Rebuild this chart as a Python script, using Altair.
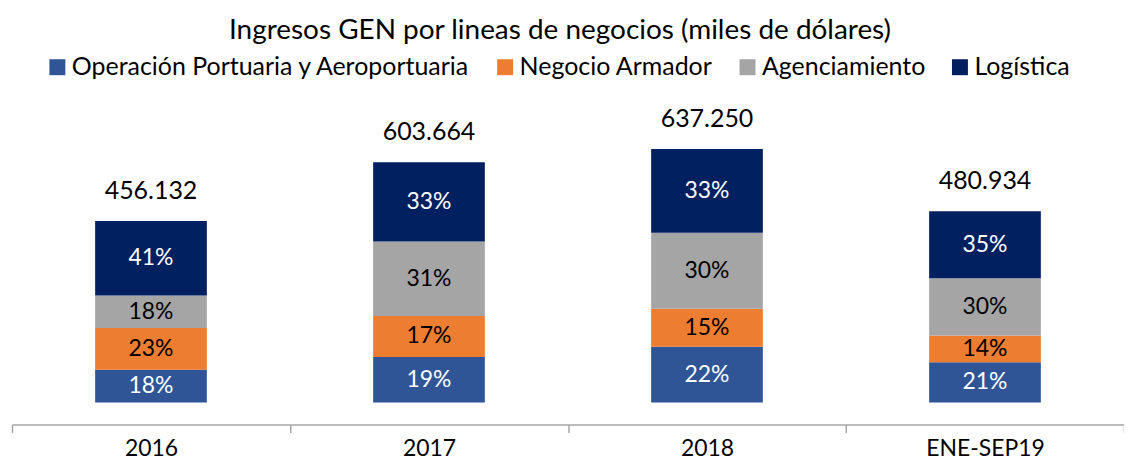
import altair as alt
import pandas as pd

periods = ["2016", "2017", "2018", "ENE-SEP19"]
totals = [456132, 603664, 637250, 480934]
segments = ["Operación Portuaria y Aeroportuaria", "Negocio Armador", "Agenciamiento", "Logística"]
share_operacion = [18, 19, 22, 21]
share_armador = [23, 17, 15, 14]
share_agenciamiento = [18, 31, 30, 30]
share_logistica = [41, 33, 33, 35]
colors = ["#2F5597", "#ED7D31", "#A5A5A5", "#002060"]
label_colors = ["white", "black", "black", "white"]

shares = [share_operacion, share_armador, share_agenciamiento, share_logistica]

rows = []
for i, p in enumerate(periods):
    cum = 0.0
    for j, s in enumerate(segments):
        v = totals[i] * shares[j][i] / 100.0
        rows.append({
            "period": p, "segment": s, "order": j,
            "start": cum, "end": cum + v, "mid": cum + v / 2,
            "label": f"{shares[j][i]}%", "lc": label_colors[j],
        })
        cum += v
df = pd.DataFrame(rows)
tot = pd.DataFrame({"period": periods, "total": totals,
                    "tlabel": [f"{t:,}".replace(",", ".") for t in totals]})

FONT = "Lato"
xenc = alt.X("period:N", sort=periods, title=None,
             scale=alt.Scale(paddingInner=0, paddingOuter=0),
             axis=alt.Axis(offset=22, tickBand="extent", tickSize=8, labelAngle=0,
                           domainColor="#A6A6A6", tickColor="#A6A6A6", domainWidth=1.5,
                           tickWidth=1.5, labelFont=FONT, labelFontSize=23,
                           labelColor="black", labelPadding=5))
yscale = alt.Scale(domain=[0, 759318])

bars = alt.Chart(df).mark_bar(width=112).encode(
    x=xenc,
    y=alt.Y("start:Q", scale=yscale, axis=None),
    y2="end:Q",
    color=alt.Color("segment:N", scale=alt.Scale(domain=segments, range=colors),
                    legend=alt.Legend(title=None, orient="none", direction="horizontal",
                                      legendX=33, legendY=-46, symbolType="square",
                                      symbolSize=256, symbolStrokeWidth=0,
                                      labelFont=FONT, labelFontSize=25, labelColor="black",
                                      columnPadding=22, labelOffset=2, labelLimit=700)),
)

seg_labels = alt.Chart(df).mark_text(font=FONT, fontSize=23).encode(
    x=alt.X("period:N", sort=periods),
    y=alt.Y("mid:Q", scale=yscale),
    text="label:N",
    color=alt.Color("lc:N", scale=None),
)

tot_labels = alt.Chart(tot).mark_text(font=FONT, fontSize=25, baseline="alphabetic",
                                      dy=-22, color="black").encode(
    x=alt.X("period:N", sort=periods),
    y=alt.Y("total:Q", scale=yscale),
    text="tlabel:N",
)

chart = alt.layer(bars, seg_labels, tot_labels).properties(
    width=1115, height=303,
    title=alt.TitleParams("Ingresos GEN por lineas de negocios (miles de dólares)",
                          font=FONT, fontSize=28, fontWeight="normal", color="black",
                          anchor="middle", offset=10, dx=-8),
    autosize=alt.AutoSizeParams(type="none"),
    padding={"left": 4, "top": 92, "right": 0, "bottom": 58},
).configure_view(stroke=None)

chart.save("out.html", embed_options={"renderer": "svg", "actions": False})
